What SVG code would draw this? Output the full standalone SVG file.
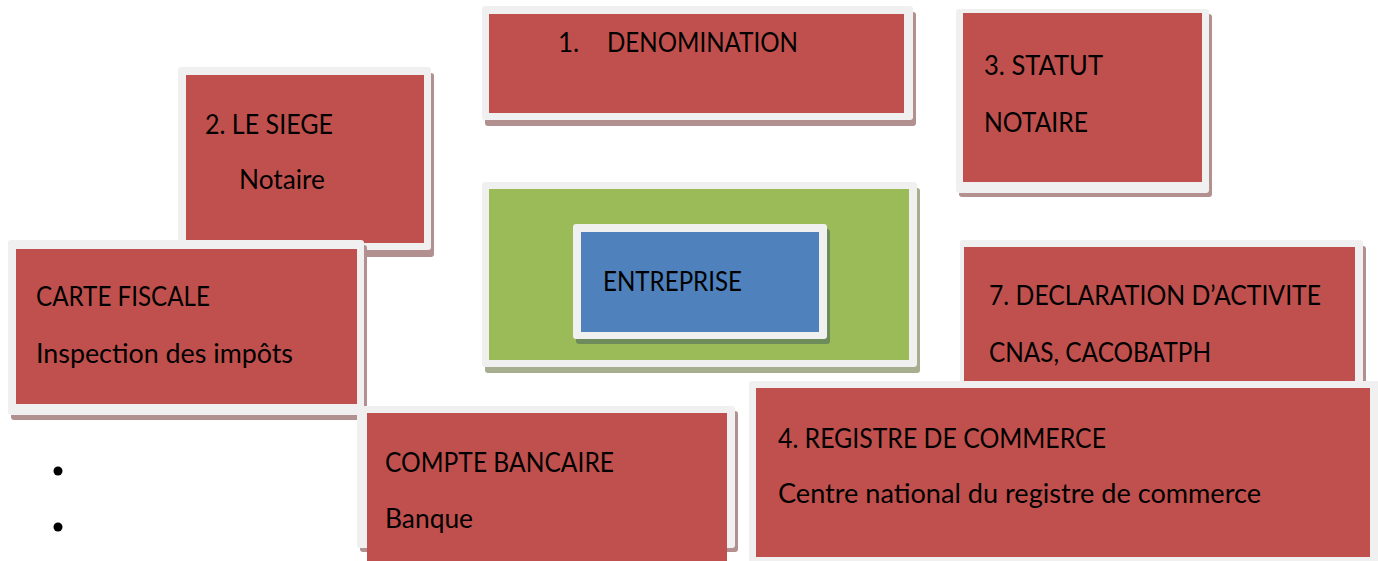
<svg xmlns="http://www.w3.org/2000/svg" width="1378" height="561" viewBox="0 0 1378 561">
<style>
.frame{fill:#F0F0F0}
.sh{fill:#B39090}
.shg{fill:#A7AE8F}
.shb{fill:#6E8B5C}
.red{fill:#C0504D}
.green{fill:#9BBB59}
.blue{fill:#4F81BD}
text{font-family:Lato,"Open Sans","Liberation Sans",sans-serif;font-size:26px;fill:#000}
</style>
<rect width="1378" height="561" fill="#FFFFFF"/>
<g id="denomination">
<rect class="sh" x="485" y="12" width="431" height="114" rx="3"/>
<rect class="frame" x="482" y="6" width="431" height="114" rx="3"/>
<rect class="red" x="489" y="14" width="415" height="99"/>
<text x="558" y="52">1.</text>
<text x="607" y="52" textLength="191" lengthAdjust="spacingAndGlyphs">DENOMINATION</text>
</g>
<g id="statut">
<rect class="sh" x="959" y="14" width="253" height="183" rx="3"/>
<rect class="frame" x="956" y="9" width="253" height="184" rx="3"/>
<rect class="red" x="963" y="13" width="239" height="169"/>
<text x="984" y="75" textLength="119" lengthAdjust="spacingAndGlyphs">3. STATUT</text>
<text x="984" y="132" textLength="104" lengthAdjust="spacingAndGlyphs">NOTAIRE</text>
</g>
<g id="siege">
<rect class="sh" x="181" y="73" width="253" height="184" rx="3"/>
<rect class="frame" x="178" y="67" width="253" height="183" rx="3"/>
<rect class="red" x="186" y="75" width="238" height="168"/>
<text x="205" y="134" textLength="128" lengthAdjust="spacingAndGlyphs">2. LE SIEGE</text>
<text x="239" y="189" textLength="86" lengthAdjust="spacingAndGlyphs">Notaire</text>
</g>
<g id="carte-fiscale">
<rect class="sh" x="11" y="245" width="356" height="175" rx="3"/>
<rect class="frame" x="8" y="240" width="356" height="175" rx="3"/>
<rect class="red" x="16" y="249" width="341" height="155"/>
<text x="36" y="306" textLength="174" lengthAdjust="spacingAndGlyphs">CARTE FISCALE</text>
<text x="36" y="363" textLength="257" lengthAdjust="spacingAndGlyphs">Inspection des impôts</text>
</g>
<g id="entreprise-cadre">
<rect class="shg" x="485" y="188" width="435" height="185" rx="3"/>
<rect class="frame" x="482" y="182" width="435" height="185" rx="3"/>
<rect class="green" x="489" y="189" width="420" height="171"/>
</g>
<g id="entreprise">
<rect class="shb" x="576" y="229" width="254" height="115" rx="3"/>
<rect class="frame" x="573" y="224" width="254" height="115" rx="3"/>
<rect class="blue" x="581" y="232" width="238" height="100"/>
<text x="603" y="291" textLength="139" lengthAdjust="spacingAndGlyphs">ENTREPRISE</text>
</g>
<g id="declaration">
<rect class="sh" x="963" y="246" width="403" height="140" rx="3"/>
<rect class="frame" x="960" y="240" width="403" height="145" rx="3"/>
<rect class="red" x="964" y="247" width="391" height="134"/>
<text x="989" y="305" textLength="332" lengthAdjust="spacingAndGlyphs">7. DECLARATION D’ACTIVITE</text>
<text x="989" y="362" textLength="222" lengthAdjust="spacingAndGlyphs">CNAS, CACOBATPH</text>
</g>
<g id="compte">
<rect class="sh" x="360" y="411" width="378" height="141" rx="3"/>
<rect class="frame" x="357" y="406" width="378" height="142" rx="3"/>
<rect class="red" x="367" y="413" width="360" height="148"/>
<text x="385" y="472" textLength="229" lengthAdjust="spacingAndGlyphs">COMPTE BANCAIRE</text>
<text x="385" y="528" textLength="88" lengthAdjust="spacingAndGlyphs">Banque</text>
</g>
<g id="registre">
<rect class="frame" x="749" y="381" width="640" height="190" rx="3"/>
<rect class="red" x="756" y="388" width="614" height="169"/>
<text x="778" y="448" textLength="328" lengthAdjust="spacingAndGlyphs">4. REGISTRE DE COMMERCE</text>
<text x="778" y="503" textLength="483" lengthAdjust="spacingAndGlyphs">Centre national du registre de commerce</text>
</g>
<g id="bullets">
<circle cx="58" cy="471" r="4.5" fill="#000"/>
<circle cx="58" cy="527" r="4.5" fill="#000"/>
</g>
<g id="connectors"></g>
</svg>
